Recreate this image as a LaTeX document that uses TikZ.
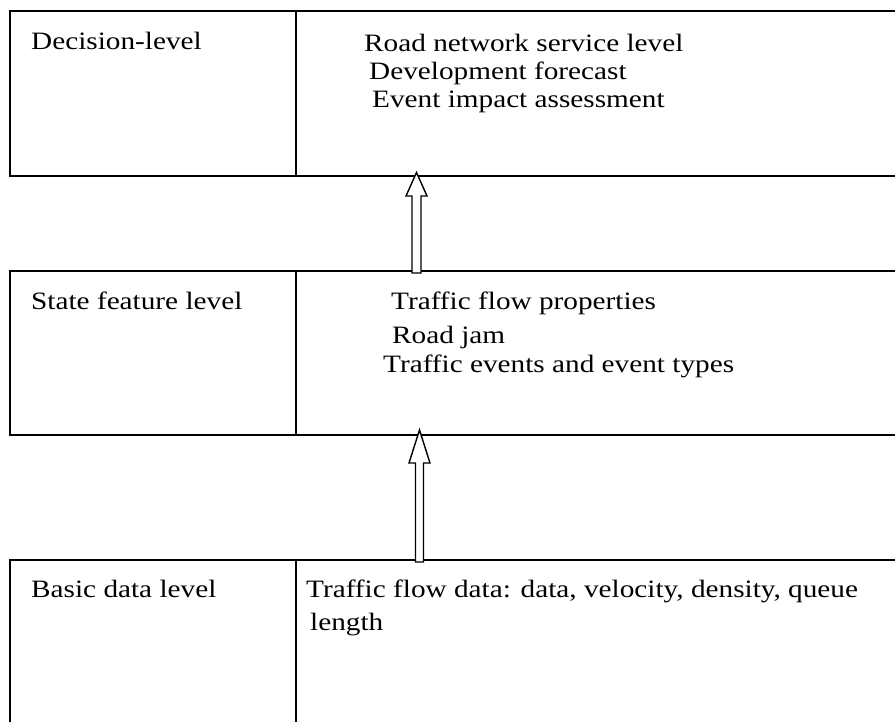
\documentclass[tikz,border=0pt]{standalone}
\usepackage{fontspec}
\setmainfont[FakeStretch=1.17]{Liberation Serif}
\usetikzlibrary{calc}
\begin{document}
\begin{tikzpicture}[x=1pt,y=-1pt,
  frame/.style={line width=1.6pt},
  area/.style={inner sep=0pt, outer sep=0pt, minimum width=885pt},
  txt/.style={anchor=base west, inner sep=0pt, font=\fontsize{25}{28}\selectfont},
  hollow/.style={line width=1.4pt, fill=white, line join=miter}]
\useasboundingbox (0,0) rectangle (895,722);
% box areas
\node[area, minimum height=165pt] (top) at (452.5,93.5) {};
\node[area, minimum height=164pt] (mid) at (452.5,353) {};
\node[area, minimum height=162pt] (bot) at (452.5,641) {};
\coordinate (div) at (296,0);
% frames (right edges lie outside the picture)
\draw[frame] (top.north east) -- (top.north west) -- (top.south west) -- (top.south east);
\draw[frame] (mid.north east) -- (mid.north west) -- (mid.south west) -- (mid.south east);
\draw[frame] (bot.north east) -- (bot.north west) -- (bot.south west);
\draw[frame] (top.north -| div) -- (top.south -| div);
\draw[frame] (mid.north -| div) -- (mid.south -| div);
\draw[frame] (bot.north -| div) -- (bot.south -| div);
% left labels
\node[txt] (l1) at (31,50) {Decision-level};
\node[txt] (l2) at (31,310) {State feature level};
\node[txt] (l3) at (31,597) {Basic data level};
% right texts
\node[txt] (d1) at (364,51.7) {Road network service level};
\node[txt] (d2) at (369,79.3) {Development forecast};
\node[txt] (d3) at (372,107.3) {Event impact assessment};
\node[txt] (s1) at (391,310) {Traffic flow properties};
\node[txt] (s2) at (392,343.5) {Road jam};
\node[txt] (s3) at (383,373) {Traffic events and event types};
\node[txt] (b1) at (306,597) {Traffic flow data: data, velocity, density, queue};
\node[txt] (b2) at (310,630.5) {length};
% hollow arrows
\coordinate (a1) at (416.5,0);
\coordinate (a2) at (419.5,0);
\draw[hollow] ($(a1 |- top.south)+(0,-3.5)$) -- ++(10.5,23.5) -- ++(-6,0) -- ++(0,77)
  -- ++(-9,0) -- ++(0,-77) -- ++(-6,0) -- cycle;
\draw[hollow] ($(a2 |- mid.south)+(0,-5)$) -- ++(10.5,33) -- ++(-6.5,0) -- ++(0,99)
  -- ++(-8,0) -- ++(0,-99) -- ++(-6.5,0) -- cycle;
\end{tikzpicture}
\end{document}
